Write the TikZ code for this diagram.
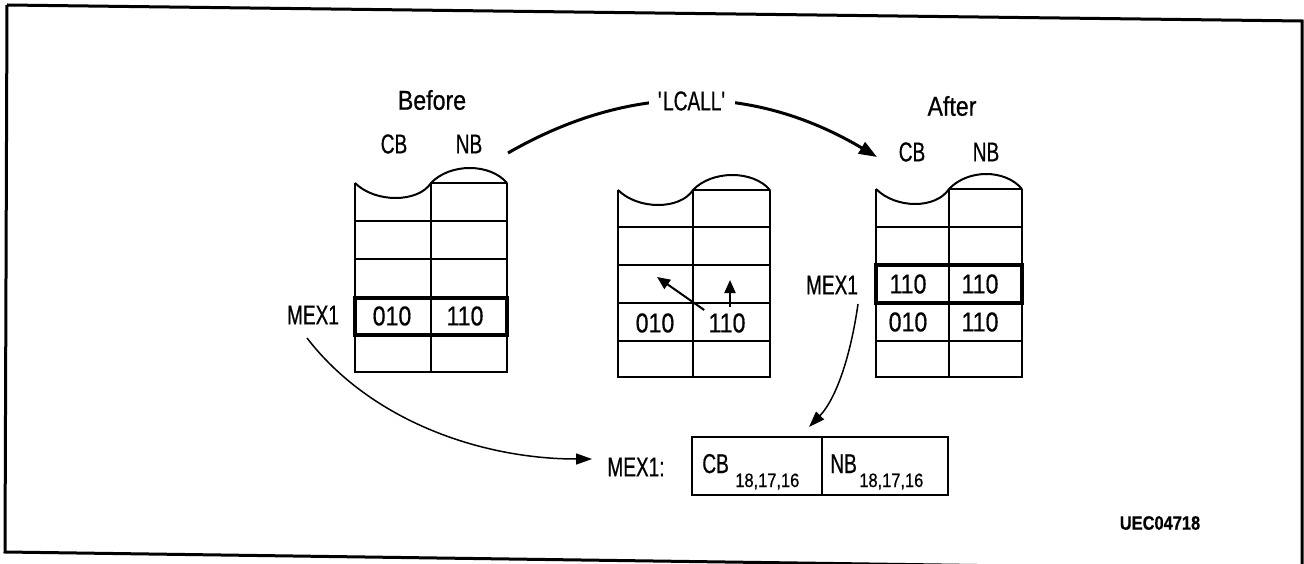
\documentclass[tikz,border=0pt]{standalone}
\usepackage{fontspec}
\setmainfont{Liberation Sans}[FakeStretch=0.85,FakeBold=0.6]
\newfontfamily\narrowcaps{Liberation Sans}[FakeStretch=0.7,FakeBold=0.6]
\usetikzlibrary{arrows.meta}
\newcommand\drawstack[9]{%
  \draw[cell] (#1,#4) .. controls ({#1+20},{#4+20}) and ({#2-13},{#4+20}) .. (#2,#4)
     .. controls ({#2+19},{#4-20}) and ({#3-17},{#4-20}) .. (#3,#4);
  \draw[cell] (#2,#4) -- (#3,#4);
  \draw[cell] (#1,#4) -- (#1,#9) -- (#3,#9) -- (#3,#4);
  \draw[cell] (#2,#4) -- (#2,#9);
  \foreach \yy in {#5,#6,#7,#8} \draw[cell] (#1,\yy) -- (#3,\yy);
}
\begin{document}
\begin{tikzpicture}[x=0.2mm,y=-0.2mm,
  lbl/.style={inner sep=0pt, font=\fontsize{15.5pt}{18pt}\selectfont},
  caps/.style={inner sep=0pt, font=\fontsize{15.5pt}{18pt}\narrowcaps},
  sublbl/.style={inner sep=0pt, font=\fontsize{11pt}{13pt}\selectfont},
  codelbl/.style={inner sep=0pt, font=\fontsize{11pt}{13pt}\selectfont\bfseries},
  cell/.style={line width=0.4mm},
  hl/.style={line width=0.8mm},
  frame/.style={line width=0.6mm},
  bigarrow/.style={line width=0.6mm, -{Triangle[length=3.6mm,width=2.6mm]}},
  conn/.style={line width=0.3mm, -{Triangle[length=3.2mm,width=2.2mm]}},
  smallarrow/.style={line width=0.4mm, -{Triangle[length=2.6mm,width=2.2mm]}},
]
\useasboundingbox (0,0) rectangle (1304,564);
\begin{scope}
\clip (0,0) rectangle (1304,564);
\draw[frame] (7,5) -- (1302,21) -- (1302,570) (1302,570) -- (5,552) -- (7,5);
\end{scope}

% stacks
\drawstack{355}{431}{507}{183}{221}{259}{298}{335}{372}
\drawstack{618}{693}{770}{190}{227}{265}{303}{341}{377}
\drawstack{876}{949}{1022}{189}{227}{265}{303}{341}{377}

\draw[hl] (355,298) rectangle (507,335);
\draw[hl] (876,265) rectangle (1022,303);

% headings
\node[lbl] (before) at (432,100) {Before};
\node[caps] (cbL) at (394,144) {CB};
\node[caps] (nbL) at (469,144) {NB};
\node[lbl] (after) at (952,106) {After};
\node[caps] (cbR) at (912,152) {CB};
\node[caps] (nbR) at (986,152) {NB};

% cell contents
\node[lbl] (b010) at (392,316) {010};
\node[lbl] (b110) at (465,316) {110};
\node[lbl] (m010) at (655,323) {010};
\node[lbl] (m110) at (727,323) {110};
\node[lbl] (a110a) at (908,284) {110};
\node[lbl] (a110b) at (980,284) {110};
\node[lbl] (a010) at (908,322) {010};
\node[lbl] (a110c) at (980,322) {110};

\node[caps] (mexL) at (313,315) {MEX1};
\node[caps] (mexR) at (832,285) {MEX1};
\node[caps] (mexB) at (636,467) {MEX1:};

% bottom register
\node[draw, line width=0.4mm, minimum width=26mm, minimum height=11.6mm, inner sep=0pt] (boxCB) at (757,466) {};
\node[draw, line width=0.4mm, minimum width=25.2mm, minimum height=11.6mm, inner sep=0pt] (boxNB) at (885,466) {};
\node[caps, anchor=base west] (cbT) at (702,473) {CB};
\node[sublbl, anchor=base west] (cbS) at (735,487) {18,17,16};
\node[caps, anchor=base west] (nbT) at (830,473) {NB};
\node[sublbl, anchor=base west] (nbS) at (859,487) {18,17,16};

\node[codelbl] (code) at (1160,523) {UEC04718};

% middle-stack arrows
\coordinate (tipDiag) at (657,277);
\coordinate (tipUp) at (730,280);
\draw[smallarrow] ([shift={(-4,-3)}]m110.north west) -- (tipDiag);
\draw[smallarrow] ([shift={(3,-6)}]m110.north) -- (tipUp);

% LCALL arrow
\coordinate (lcS) at (508,153);
\coordinate (lcE) at (877,157);
\draw[bigarrow] (lcS) .. controls (630.7,82.3) and (753.7,83.7) .. (lcE)
  node[pos=0.5, caps, fill=white, inner xsep=5pt, inner ysep=2pt] (lcall) {\textquotesingle LCALL\textquotesingle};

% MEX1 connectors
\draw[conn] ([shift={(-6,23)}]mexL.center) .. controls (370,420) and (480,459) .. ([shift={(-15,-8)}]mexB.west);
\draw[conn] ([shift={(26,19)}]mexR.center) .. controls (850,360) and (835,400) .. ([shift={(-14,-9)}]boxCB.north east);
\end{tikzpicture}
\end{document}
